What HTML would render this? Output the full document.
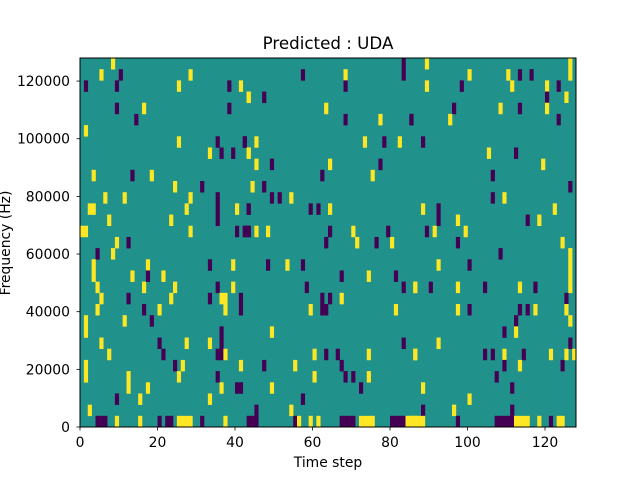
<!DOCTYPE html>
<html><head><meta charset="utf-8"><style>
html,body{margin:0;padding:0;background:#fff;}
svg text{font-family:"DejaVu Sans","Liberation Sans",sans-serif;fill:#000;}
</style></head><body>
<svg id="s" width="640" height="480" xmlns="http://www.w3.org/2000/svg">
<rect x="0" y="0" width="640" height="480" fill="#fff"/>
<rect x="80" y="58" width="496" height="369" fill="#21918c"/>
<g id="cells"></g>
<rect x="80" y="58" width="496" height="369" fill="none" stroke="#000" stroke-width="1"/>
<g id="ticks" stroke="#000" stroke-width="0.8"></g>
<g id="labels" font-size="13.9"></g>
<text x="328" y="49" font-size="16.7" text-anchor="middle">Predicted : UDA</text>
<text x="328" y="467" font-size="13.9" text-anchor="middle">Time step</text>
<text x="0" y="0" font-size="13.9" text-anchor="middle" transform="translate(10,243) rotate(-90)">Frequency (Hz)</text>
</svg>
<script>
var Y='#fde725',P='#440154';
var d=[
[8,0,1,1,Y],[5,1,1,1,Y],[10,1,1,1,P],[28,1,1,1,Y],
[1,2,1,1,P],[9,2,1,1,P],[25,2,1,1,Y],[38,2,1,1,P],[41,2,1,1,Y],
[43,3,1,1,Y],[9,4,1,1,P],[16,4,1,1,Y],[38,4,1,1,P],[14,5,1,1,P],[1,6,1,1,Y],
[25,7,1,1,Y],[35,7,1,1,P],[42,7,1,1,P],[33,8,1,1,Y],[36,8,1,1,P],[39,8,1,1,P],[43,8,1,1,Y],
[3,10,1,1,Y],[13,10,1,1,P],[18,10,1,1,Y],[24,11,1,1,Y],[31,11,1,1,P],
[6,12,1,1,Y],[11,12,1,1,Y],[28,12,1,1,Y],[35,12,1,3,P],
[2,13,2,1,Y],[27,13,1,1,Y],[40,13,1,1,Y],[43,13,1,1,P],[7,14,1,1,Y],[23,14,1,1,Y],
[0,15,2,1,Y],[28,15,1,1,Y],[40,15,1,1,P],[42,15,2,1,P],[9,16,1,1,Y],[12,16,1,1,P],
[4,17,1,1,P],[8,17,1,1,Y],
[3,18,1,2,Y],[17,18,1,1,Y],[33,18,1,1,P],[39,18,1,1,Y],
[13,19,1,1,Y],[17,19,1,1,P],[21,19,1,1,Y],
[4,20,1,1,Y],[16,20,1,1,Y],[24,20,1,1,Y],[35,20,1,1,P],[39,20,1,1,Y],
[5,21,1,1,Y],[12,21,1,1,P],[23,21,1,1,Y],[33,21,1,1,P],[36,21,2,1,Y],[41,21,1,2,P],
[4,22,1,1,Y],[16,22,1,1,P],[20,22,1,1,Y],[37,22,1,1,Y],
[1,23,1,2,Y],[11,23,1,1,Y],[18,23,1,1,P],[36,24,1,3,P],
[5,25,1,1,Y],[20,25,1,1,P],[27,25,1,1,Y],[33,25,1,1,Y],
[7,26,1,1,Y],[21,26,1,1,P],[35,26,1,1,P],[37,26,1,1,Y],
[1,27,1,2,Y],[24,27,1,1,P],[26,27,1,1,Y],[41,27,1,1,Y],
[12,28,1,2,Y],[25,28,1,1,Y],[35,28,1,1,P],[17,29,1,1,Y],[36,29,1,1,Y],[40,29,2,1,P],
[9,30,1,1,P],[15,30,1,1,Y],[33,30,1,1,Y],[2,31,1,1,Y],
[4,32,3,1,P],[9,32,1,1,Y],[15,32,1,1,Y],[20,32,1,1,P],[22,32,2,1,P],[25,32,4,1,Y],[31,32,1,1,P],[37,32,1,1,Y],
[83,0,1,2,P],[57,1,1,1,P],[68,1,1,1,Y],[68,2,1,1,P],[43,3,1,1,Y],[47,3,1,1,P],[63,4,1,1,Y],
[68,5,1,1,P],[77,5,1,1,Y],[85,5,1,1,P],[42,7,1,1,P],[45,7,1,1,Y],[73,7,1,1,Y],[78,7,1,1,P],[82,7,1,1,Y],
[43,8,1,1,Y],[45,9,1,1,Y],[49,9,1,1,P],[64,9,1,1,Y],[77,9,1,1,P],[62,10,1,1,P],[75,10,1,1,Y],
[44,11,1,1,Y],[47,11,1,1,P],[49,12,1,1,P],[51,12,1,1,P],[54,12,1,1,Y],
[43,13,1,1,P],[59,13,1,1,P],[61,13,1,1,P],[64,13,1,1,Y],
[42,15,2,1,P],[45,15,1,1,Y],[48,15,1,1,Y],[64,15,1,1,P],[70,15,1,1,Y],[79,15,1,1,P],
[63,16,1,1,P],[71,16,1,1,Y],[76,16,1,1,P],[80,16,1,1,Y],
[48,18,1,1,P],[53,18,1,1,Y],[57,18,1,1,P],[67,19,1,1,P],[74,19,1,1,Y],[81,19,1,1,P],
[58,20,1,1,P],[83,20,1,1,P],[86,20,1,1,Y],[62,21,1,2,P],[64,21,1,1,P],[67,21,1,1,Y],
[59,22,1,1,Y],[63,22,1,1,P],[81,22,1,1,Y],[49,24,1,1,Y],[83,25,1,1,P],
[60,26,1,1,Y],[63,26,1,1,P],[66,26,1,1,P],[74,26,1,1,Y],[86,26,1,1,Y],
[47,27,1,1,P],[55,27,1,1,Y],[67,27,1,1,P],[60,28,1,1,Y],[68,28,1,1,P],[70,28,1,1,P],[74,28,1,1,Y],
[49,29,1,1,Y],[72,29,1,1,P],[57,30,1,1,P],[45,31,1,1,P],[54,31,1,1,Y],
[43,32,3,1,P],[55,32,1,1,P],[56,32,1,1,Y],[59,32,1,1,Y],[61,32,1,1,Y],[67,32,4,1,P],[72,32,4,1,Y],[80,32,4,1,P],[84,32,3,1,Y],
[89,0,1,1,Y],[126,0,1,2,Y],[100,1,1,1,Y],[110,1,1,1,Y],[113,1,1,1,P],[116,1,1,1,P],
[89,2,1,1,Y],[98,2,1,1,P],[111,2,1,1,Y],[120,2,1,1,Y],[123,2,1,1,P],[120,3,1,1,P],[125,3,1,1,Y],
[96,4,1,1,P],[108,4,1,1,Y],[113,4,1,1,P],[120,4,1,1,Y],[85,5,1,1,P],[95,5,1,1,Y],[123,5,1,1,P],
[88,7,1,1,P],[105,8,1,1,Y],[112,8,1,1,P],[119,9,1,1,Y],[106,10,1,1,P],[126,11,1,1,P],
[106,12,1,1,P],[109,12,1,1,Y],[88,13,1,1,Y],[92,13,1,2,P],[122,13,1,1,Y],
[97,14,1,1,Y],[115,14,1,1,P],[118,14,1,1,Y],[89,15,1,1,P],[91,15,1,1,Y],[99,15,1,1,Y],
[97,16,1,1,P],[124,16,1,1,Y],[108,17,1,1,P],[126,17,1,4,Y],[92,18,1,1,Y],[100,18,1,1,P],
[86,20,1,1,Y],[90,20,1,1,P],[97,20,1,1,Y],[104,20,1,1,P],[113,20,1,1,Y],[117,20,1,1,P],
[125,21,1,1,P],[97,22,1,1,Y],[100,22,1,1,P],[113,22,1,1,P],[115,22,1,1,P],[117,22,1,1,Y],[125,22,1,1,Y],
[112,23,1,1,P],[126,23,1,1,Y],[109,24,1,1,P],[112,24,1,1,Y],[92,25,1,1,Y],[126,25,1,1,P],
[86,26,1,1,Y],[104,26,1,1,P],[106,26,1,1,P],[109,26,1,1,Y],[114,26,1,1,P],[121,26,1,1,Y],[125,26,1,1,Y],[127,26,1,1,Y],
[109,27,1,1,P],[113,27,1,1,Y],[124,27,1,1,P],[107,28,1,1,P],[88,29,1,1,Y],[111,29,1,1,P],[100,30,1,1,Y],
[88,31,1,1,P],[96,31,1,1,Y],[111,31,1,1,P],
[85,32,4,1,Y],[97,32,1,1,P],[107,32,5,1,P],[112,32,4,1,Y],[118,32,1,1,Y],[121,32,1,1,P],[123,32,2,1,Y]
];
var cw=496/128,rh=369/33,h='';
d.forEach(function(c){
 var x=80+c[0]*cw,y=58+c[1]*rh;
 h+='<rect x="'+x.toFixed(2)+'" y="'+y.toFixed(2)+'" width="'+(c[2]*cw+0.3).toFixed(2)+'" height="'+(c[3]*rh+0.3).toFixed(2)+'" fill="'+c[4]+'"/>';
});
document.getElementById('cells').innerHTML=h;
var t='',l='';
for(var v=0;v<=120;v+=20){var x=80+v*cw;t+='<line x1="'+x+'" y1="427" x2="'+x+'" y2="430.5"/>';l+='<text x="'+x+'" y="447" text-anchor="middle">'+v+'</text>';}
for(var v=0;v<=120000;v+=20000){var y=427-v/128000*369;t+='<line x1="76.5" y1="'+y+'" x2="80" y2="'+y+'"/>';l+='<text x="70" y="'+(y+5)+'" text-anchor="end">'+v+'</text>';}
document.getElementById('ticks').innerHTML=t;
document.getElementById('labels').innerHTML=l;
</script>
</body></html>
